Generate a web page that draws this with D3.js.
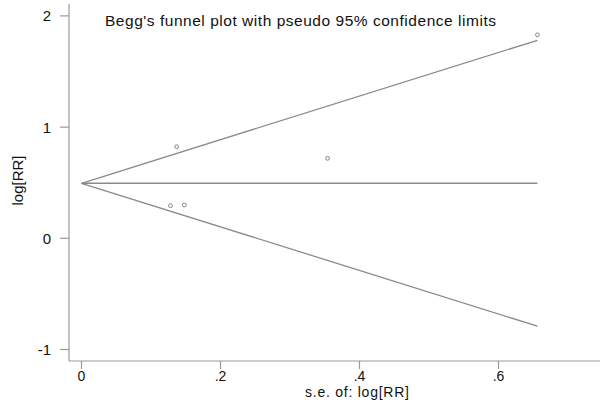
<!DOCTYPE html>
<html><head><meta charset="utf-8">
<script src="https://cdn.jsdelivr.net/npm/d3@7"></script>
<style>body{margin:0;background:#fff}svg{display:block}text{font-family:"Liberation Sans",Arial,sans-serif;fill:#111}</style>
</head><body><svg id="c" width="600" height="407"></svg>
<script>
const seValues = [0.656, 0.137, 0.354, 0.128, 0.148];
const logRR = [1.83, 0.824, 0.719, 0.293, 0.30];
const pooled = 0.495;
const seMax = 0.656;
const xTicks = [0, 0.2, 0.4, 0.6];
const xTickLabels = ["0", ".2", ".4", ".6"];
const yTicks = [-1, 0, 1, 2];
const yTickLabels = ["-1", "0", "1", "2"];

(function () {
const svg = d3.select("#c");
const xs = d3.scaleLinear().domain([0, 0.2]).range([81.5, 220.5]);
const ys = d3.scaleLinear().domain([0, 1]).range([238.3, 127.1]);
const axisColor = "#999";
const pLeft = 69, pBottom = 361, pTop = 4, pRight = 600;

svg.append("line").attr("x1", pLeft).attr("x2", pLeft).attr("y1", pTop).attr("y2", pBottom).attr("stroke", axisColor).attr("stroke-width", 1.2);
svg.append("line").attr("x1", pLeft).attr("x2", pRight).attr("y1", pBottom).attr("y2", pBottom).attr("stroke", axisColor).attr("stroke-width", 1.2);

yTicks.forEach((t, i) => {
  svg.append("line").attr("x1", 60).attr("x2", pLeft).attr("y1", ys(t)).attr("y2", ys(t)).attr("stroke", axisColor).attr("stroke-width", 1.2);
  svg.append("text").attr("x", 51).attr("y", ys(t)).attr("dy", "0.36em").attr("text-anchor", "end").attr("font-size", 15).text(yTickLabels[i]);
});
xTicks.forEach((t, i) => {
  svg.append("line").attr("x1", xs(t)).attr("x2", xs(t)).attr("y1", pBottom).attr("y2", pBottom + 8).attr("stroke", axisColor).attr("stroke-width", 1.2);
  svg.append("text").attr("x", xs(t)).attr("y", 381).attr("text-anchor", "middle").attr("font-size", 14).text(xTickLabels[i]);
});

svg.append("text").attr("x", 357).attr("y", 397).attr("text-anchor", "middle").attr("font-size", 14)
  .attr("textLength", 104).attr("lengthAdjust", "spacing").text("s.e. of: log[RR]");
svg.append("text").attr("transform", `translate(23,180.5) rotate(-90)`).attr("text-anchor", "middle").attr("font-size", 15).text("log[RR]");

svg.append("text").attr("x", 105).attr("y", 25.5).attr("font-size", 15.5)
  .attr("textLength", 391).attr("lengthAdjust", "spacing")
  .text("Begg's funnel plot with pseudo 95% confidence limits");

const lineColor = "#8a8a8a";
const lines = [
  [[0, pooled], [seMax, pooled]],
  [[0, pooled], [seMax, pooled + 1.96 * seMax]],
  [[0, pooled], [seMax, pooled - 1.96 * seMax]]
];
const lg = d3.line().x(d => xs(d[0])).y(d => ys(d[1]));
lines.forEach(l => svg.append("path").attr("d", lg(l)).attr("fill", "none").attr("stroke", lineColor).attr("stroke-width", 1.3));

svg.selectAll("circle.pt").data(seValues.map((s, i) => [s, logRR[i]])).enter().append("circle")
  .attr("cx", d => xs(d[0])).attr("cy", d => ys(d[1])).attr("r", 1.9)
  .attr("fill", "none").attr("stroke", "#777").attr("stroke-width", 0.9);
})();
</script></body></html>
